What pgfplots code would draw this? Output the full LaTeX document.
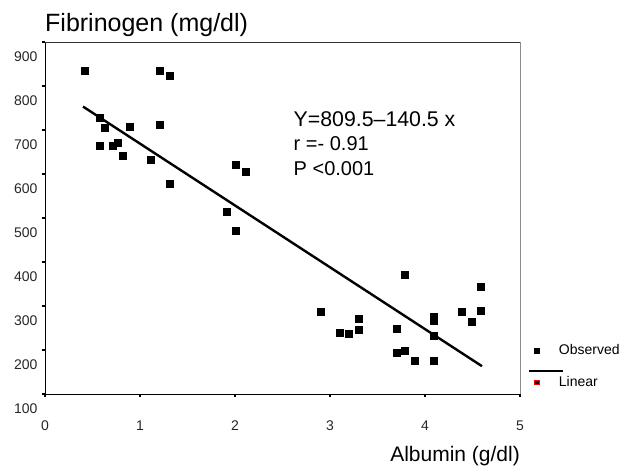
\documentclass[border=0pt]{standalone}
\usepackage{fontspec}
\setmainfont{Liberation Sans}
\usepackage{pgfplots}
\pgfplotsset{compat=1.18}
\begin{document}
\begin{tikzpicture}
\begin{axis}[
    name=ax,
    scale only axis,
    width=475pt, height=352pt,
    xmin=0, xmax=5, ymin=100, ymax=900,
    xtick={0,1,2,3,4,5}, ytick={100,200,...,900},
    axis x line*=bottom, axis y line*=left,
    axis line style={black, line width=0.9pt, -},
    tick align=outside, major tick length=3pt,
    tick style={black, line width=2.2pt},
    ticklabel style={font=\fontsize{14}{14}\selectfont, text=black!85},
    /pgf/number format/assume math mode=true,
    yticklabel style={yshift=-15pt, xshift=-1pt},
    xticklabel style={yshift=-20pt},
    xlabel={Albumin (g/dl)},
    xlabel style={at={(rel axis cs:1,0)}, anchor=north east, yshift=-52pt,
                  inner sep=0pt, font=\fontsize{21}{21}\selectfont},
    clip=false,
    legend style={at={(rel axis cs:1.012,0.152)}, anchor=north west, draw=none,
                  fill=none, font=\fontsize{14}{14}\selectfont, row sep=16pt,
                  legend cell align=left},
  ]
  % observed points
  \addplot[only marks, mark=square*, mark size=3.5pt, black,
           legend image code/.code={
             \fill[black] (5.5pt,-2.5pt) rectangle (10.5pt,2.5pt);
             \path[draw=none] (0pt,0pt) -- (28pt,0pt);}]
  coordinates {
    (0.42,835) (1.21,835) (1.31,823)
    (0.575,729) (0.63,705) (0.89,708) (1.21,711)
    (0.575,664) (0.71,664) (0.77,670) (0.82,641) (1.11,632) (1.31,579)
    (2.01,620) (2.11,605) (1.91,514) (2.01,470)
    (3.79,370) (4.59,343) (2.90,288) (3.30,270) (3.10,239) (3.20,238)
    (3.30,246) (3.70,249) (4.09,276) (4.09,266) (4.09,232) (4.39,287)
    (4.59,290) (4.49,264) (3.70,194) (3.79,199) (3.89,176) (4.09,176)
  };
  \addlegendentry{Observed}
  % fitted line Y = 809.5 - 140.5 x
  \addplot[black, line width=2.4pt,
           legend image code/.code={
             \pgfinterruptboundingbox
             \draw[black, line width=2pt] (0pt,11pt) -- (34pt,11pt);
             \endpgfinterruptboundingbox
             \path[draw=none] (0pt,0pt) -- (28pt,0pt);
             \draw[red, fill=black, line width=0.8pt] (6pt,-2pt) rectangle (10pt,2pt);}]
  coordinates {(0.4,753.3) (4.6,163.2)};
  \addlegendentry{Linear}
  % top and right frame
  \draw[black!80, line width=0.9pt] (rel axis cs:0,1) -- (rel axis cs:1,1);
  \draw[black!45, line width=0.9pt] (rel axis cs:1,1) -- (rel axis cs:1,0);
  % annotation
  \node[anchor=base west, inner sep=0pt, font=\fontsize{21.3}{21.3}\selectfont] at (axis cs:2.616,709) {Y=809.5--140.5 x};
  \node[anchor=base west, inner sep=0pt, font=\fontsize{20}{20}\selectfont] at (axis cs:2.616,653) {r =- 0.91};
  \node[anchor=base west, inner sep=0pt, font=\fontsize{20}{20}\selectfont] at (axis cs:2.616,596) {P <0.001};
  % title
  \node[anchor=base west, inner sep=0pt, font=\fontsize{25}{25}\selectfont] at (rel axis cs:0,1) [yshift=11pt] {Fibrinogen (mg/dl)};
\end{axis}
\pgfresetboundingbox
\path[use as bounding box] (ax.south west) ++(-45pt,-76pt) rectangle ++(624pt,470pt);
\end{tikzpicture}
\end{document}
